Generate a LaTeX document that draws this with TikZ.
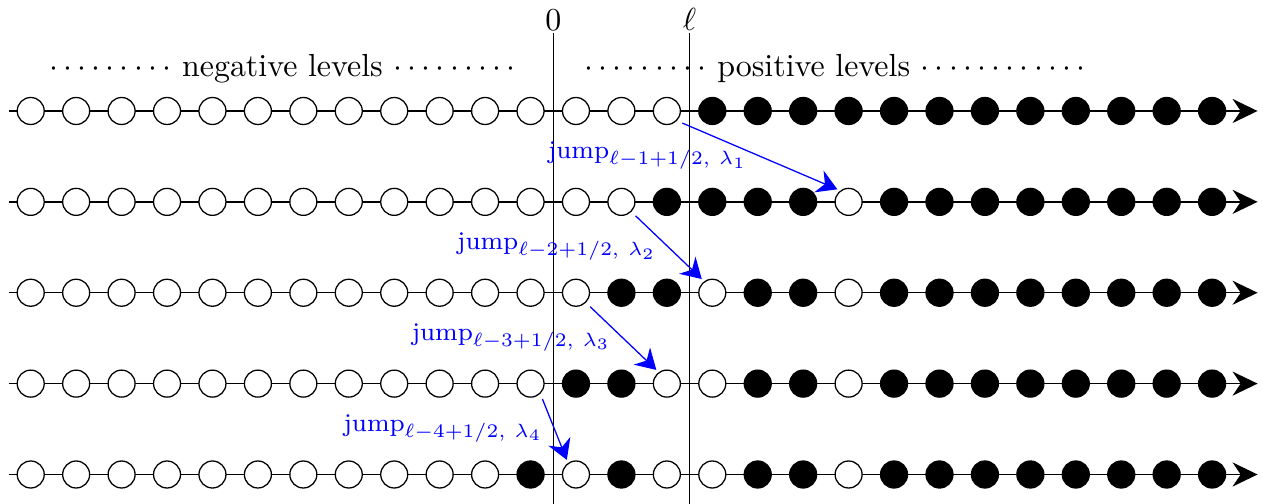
\documentclass[tikz,border=0pt]{standalone}
\usetikzlibrary{arrows.meta}
\begin{document}
\begin{tikzpicture}[x=0.5cm, y=0.5cm,
    site/.style={circle, draw, fill=white, minimum size=2.97mm, inner sep=0pt, outer sep=0pt},
    full/.style={site, fill=black},
    jump/.style={blue, -{Stealth[length=2.2mm, width=2.6mm]}, shorten <=2pt, shorten >=1.2pt},
    jumplabel/.style={left, font=\footnotesize}]
  \useasboundingbox (0.324,-8.648) rectangle (28.12,2.443);
  % the marks 0 and ell
  \coordinate (zero-top) at (12.5,1.72);
  \coordinate (zero-bot) at (12.5,-8.65);
  \coordinate (ell-top) at (15.5,1.72);
  \coordinate (ell-bot) at (15.5,-8.65);
  \draw (zero-bot) -- (zero-top) node[above, inner sep=0.5pt] (zero) {$0$};
  \draw (ell-bot) -- (ell-top) node[above, inner sep=0.5pt] (ell) {$\ell$};
  \node (neg) at (6.54,0.93) {$\cdots\cdots\cdots$ negative levels $\cdots\cdots\cdots$};
  \node (pos) at (18.70,0.93) {$\cdots\cdots\cdots$ positive levels $\cdots\cdots\cdots\cdots$};
  % one row per time, empty and occupied sites
  \foreach \r/\wlist/\blist in {0/{1,...,15}/{16,...,27},
      1/{1,...,14,19}/{15,...,18,20,21,...,27},
      2/{1,...,13,16,19}/{14,15,17,18,20,21,...,27},
      3/{1,...,12,15,16,19}/{13,14,17,18,20,21,...,27},
      4/{1,...,11,13,15,16,19}/{12,14,17,18,20,21,...,27}}{
    \coordinate (start-\r) at (0.52,-2*\r);
    \coordinate (end-\r) at (28,-2*\r);
    \draw[-{Stealth[length=2.75mm, width=2.65mm]}] (start-\r) -- (end-\r);
    \foreach \j in \wlist \node[site] (c-\r-\j) at (\j,-2*\r) {};
    \foreach \j in \blist \node[full] (c-\r-\j) at (\j,-2*\r) {};
  }
  % the jumps
  \draw[jump] (c-0-15.south east) -- (c-1-19.125) node[midway, jumplabel] (jump-1) {jump$_{\ell-1+1/2,\ \lambda_1}$};
  \draw[jump] (c-1-14.south east) -- (c-2-16.125) node[midway, jumplabel] (jump-2) {jump$_{\ell-2+1/2,\ \lambda_2}$};
  \draw[jump] (c-2-13.south east) -- (c-3-15.125) node[midway, jumplabel] (jump-3) {jump$_{\ell-3+1/2,\ \lambda_3}$};
  \draw[jump] (c-3-12.south east) -- (c-4-13.125) node[midway, jumplabel] (jump-4) {jump$_{\ell-4+1/2,\ \lambda_4}$};
\end{tikzpicture}
\end{document}
